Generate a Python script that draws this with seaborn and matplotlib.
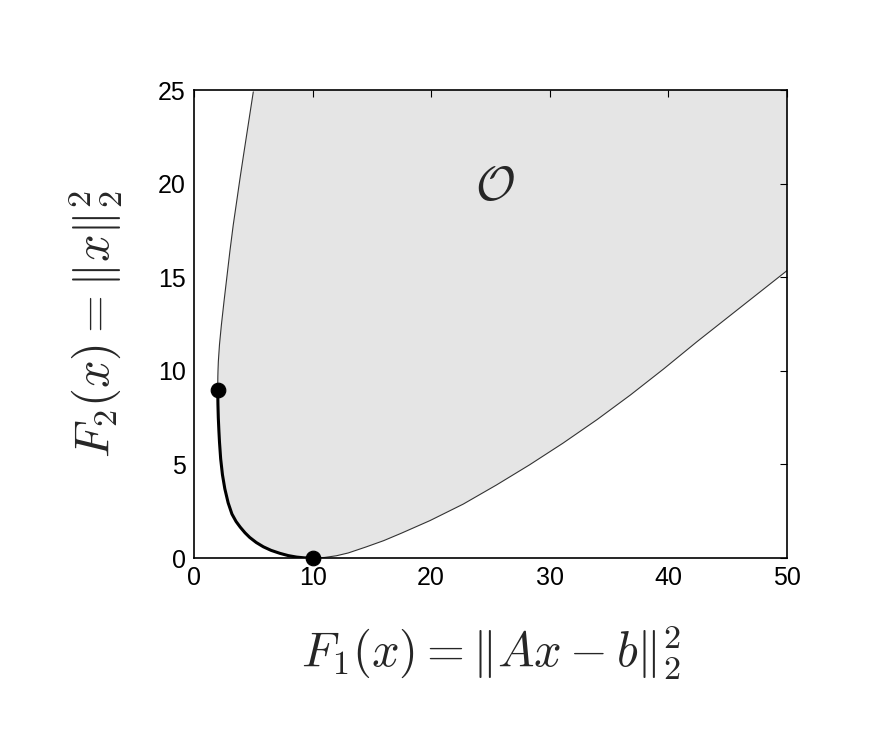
import matplotlib
matplotlib.use("Agg")
import matplotlib.pyplot as plt
import seaborn as sns
import pandas as pd

# boundary of the achievable set
# upper left edge, from the top of the axes down to (2, 9)
upper_f1 = [5.0, 4.72, 4.44, 4.16, 3.88, 3.6, 3.31, 3.03, 2.76, 2.53, 2.31,
            2.15, 2.053, 2.024, 2.012, 2.0]
upper_f2 = [24.9, 23.75, 22.6, 21.45, 20.28, 19.05, 17.79, 16.4, 14.94, 13.7, 12.45,
            11.4, 10.49, 10.0, 9.7, 9.0]

# pareto part (thick), from (2, 9) down to (10, 0)
pareto_f1 = [2.0, 2.02, 2.05, 2.1, 2.15, 2.25, 2.4, 2.6, 2.88, 3.2, 3.55, 3.9,
             4.3, 4.7, 5.25, 5.85, 6.5, 7.25, 7.95, 8.66, 9.3, 10.0]
pareto_f2 = [9.0, 8.2, 7.5, 6.8, 6.2, 5.3, 4.45, 3.7, 2.95, 2.35, 1.95, 1.65,
             1.35, 1.1, 0.83, 0.6, 0.41, 0.25, 0.13, 0.05, 0.01, 0.0]

# lower right edge, from (10, 0) to the right side of the axes
lower_f1 = [10.0, 11.0, 12.0, 13.0, 14.5, 16.0, 17.5, 19.9, 22.7, 25.5, 28.3,
            31.1, 34.0, 36.8, 39.6, 42.4, 45.2, 48.0, 50.0]
lower_f2 = [0.0, 0.03, 0.12, 0.27, 0.59, 0.93, 1.33, 2.0, 2.88, 3.9, 4.98,
            6.13, 7.4, 8.71, 10.1, 11.55, 12.95, 14.35, 15.35]

# the two end points of the pareto curve
dots_f1 = [2.0, 10.0]
dots_f2 = [9.0, 0.0]

xticks = [0, 10, 20, 30, 40, 50]
yticks = [0, 5, 10, 15, 20, 25]

sns.set_style("white")
plt.rcParams['font.family'] = ['Liberation Sans', 'DejaVu Sans']
plt.rcParams['mathtext.fontset'] = 'cm'

fig = plt.figure(figsize=(8.96, 7.36), dpi=100)
ax = fig.add_axes([0.2165, 0.2418, 0.6618, 0.6359])

# gray region
poly_x = [5.0] + upper_f1 + pareto_f1[1:] + lower_f1[1:] + [50.0, 50.0]
poly_y = [25.0] + upper_f2 + pareto_f2[1:] + lower_f2[1:] + [25.0, 25.0]
ax.fill(poly_x, poly_y, color="#e5e5e5", lw=0, zorder=0)

upper = pd.DataFrame({"f1": upper_f1, "f2": upper_f2})
pareto = pd.DataFrame({"f1": pareto_f1, "f2": pareto_f2})
lower = pd.DataFrame({"f1": lower_f1, "f2": lower_f2})
dots = pd.DataFrame({"f1": dots_f1, "f2": dots_f2})

sns.lineplot(data=upper, x="f1", y="f2", sort=False, color="#333333", lw=0.8, ax=ax)
sns.lineplot(data=lower, x="f1", y="f2", sort=False, color="#333333", lw=0.8, ax=ax)
sns.lineplot(data=pareto, x="f1", y="f2", sort=False, color="black", lw=2.2, ax=ax)
sns.scatterplot(data=dots, x="f1", y="f2", color="black", s=110, edgecolor="black",
                zorder=5, clip_on=False, ax=ax)

ax.text(25.4, 19.8, r"$\mathcal{O}$", fontsize=35, ha="center", va="center")

ax.set_xlim(0, 50)
ax.set_ylim(0, 25)
ax.set_xticks(xticks)
ax.set_yticks(yticks)
ax.tick_params(direction="in", length=5, width=0.8, top=True, right=True,
               labelsize=18, pad=6, colors="black")
for sp in ax.spines.values():
    sp.set_visible(True)
    sp.set_color("black")
    sp.set_linewidth(1.2)

ax.set_xlabel(r"$F_1(x) = \|Ax-b\|_2^2$", fontsize=35, labelpad=24)
ax.set_ylabel(r"$F_2(x) = \|x\|_2^2$", fontsize=35, labelpad=24)

fig.savefig("out.png", dpi=100)
